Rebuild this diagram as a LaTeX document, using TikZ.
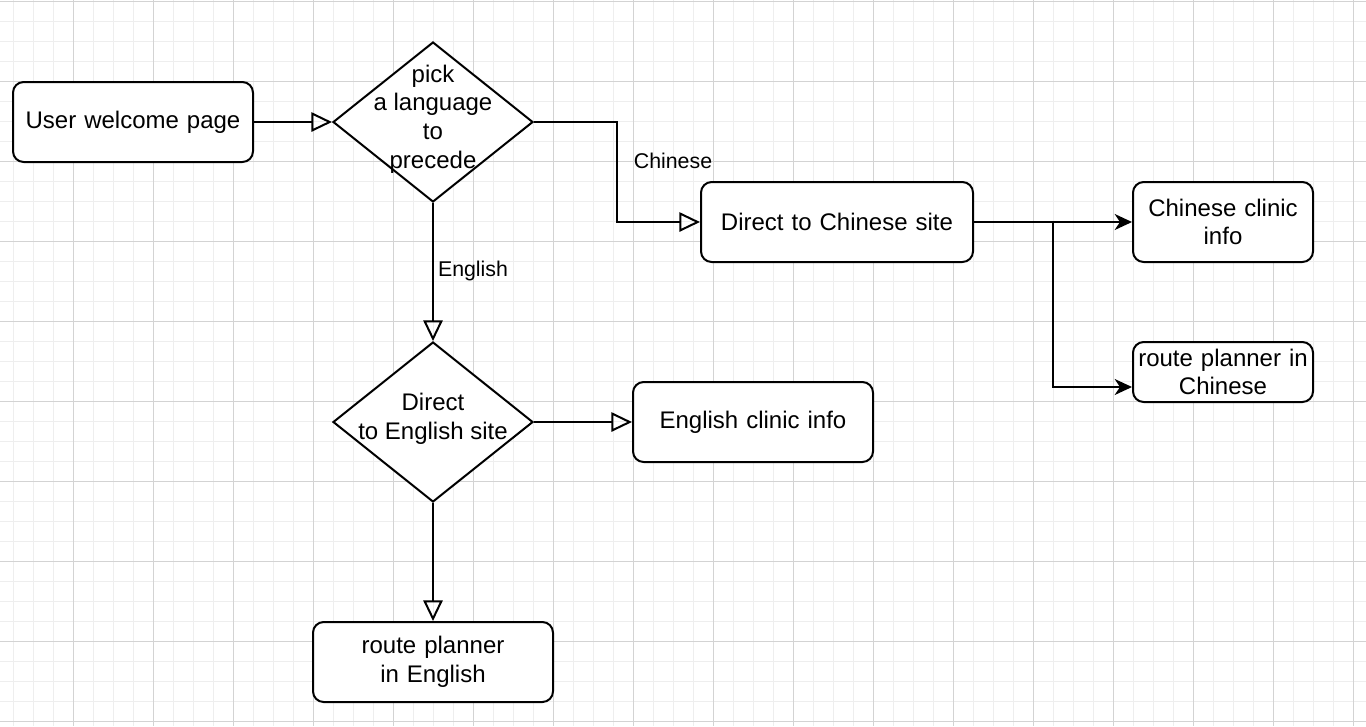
\documentclass[tikz,border=0pt]{standalone}
\usepackage{fontspec}
\setmainfont{Liberation Sans}
\usetikzlibrary{shapes.geometric,arrows.meta}
\definecolor{gridminor}{HTML}{EEEEEE}
\definecolor{gridmajor}{HTML}{D3D3D3}
\tikzset{
  box/.style={draw=black, line width=1.5pt, fill=white, rounded corners=8pt, inner sep=0pt,
    align=center, font=\fontsize{18}{21.6}\selectfont},
  dia/.style={draw=black, line width=1.5pt, fill=white, shape=diamond, inner sep=0pt,
    minimum width=150pt, minimum height=120pt},
  diatext/.style={align=center, inner sep=0pt, font=\fontsize{18}{21.6}\selectfont},
  elabel/.style={inner sep=0pt, font=\fontsize{16}{19.2}\selectfont},
  conn/.style={draw=black, line width=1.5pt},
  oarrow/.style={conn, -{Triangle[open, length=15.5pt, width=14.5pt]}},
  farrow/.style={conn, -{Stealth[length=13pt, width=12pt, inset=4pt]}},
}
\begin{document}
\begin{tikzpicture}[x=0.75pt, y=-0.75pt]
\useasboundingbox (0,0) rectangle (1366,726);
\fill[white] (0,0) rectangle (1366,726);
% grid
\foreach \x in {13,33,...,1366} \draw[gridminor, line width=0.75pt] (\x,0) -- (\x,726);
\foreach \y in {1,21,...,726} \draw[gridminor, line width=0.75pt] (0,\y) -- (1366,\y);
\foreach \x in {73,153,...,1366} \draw[gridmajor, line width=0.75pt] (\x,0) -- (\x,726);
\foreach \y in {1,81,...,726} \draw[gridmajor, line width=0.75pt] (0,\y) -- (1366,\y);

% nodes
\node[box, minimum width=180pt, minimum height=60pt, text width=176pt] (uw) at (133,122) {User welcome page};
\node[dia] (d1) at (433,122) {};
\node[diatext] (d1t) at (433,119) {pick\\a language\\to\\precede};
\node[box, minimum width=204pt, minimum height=60pt, text width=200pt] (dc) at (837,222) {Direct to Chinese site};
\node[box, minimum width=135pt, minimum height=60pt, text width=131pt] (cci) at (1223,222) {Chinese clinic\\info};
\node[box, minimum width=135pt, minimum height=45pt, text width=133pt] (rpc) at (1223,372) {route planner in\\Chinese};
\node[dia] (d2) at (433,422) {};
\node[diatext] (d2t) at (433,419) {Direct\\to English site};
\node[box, minimum width=180pt, minimum height=60pt, text width=176pt] (eci) at (753,422) {English clinic info};
\node[box, minimum width=180pt, minimum height=60pt, text width=176pt] (rpe) at (433,662) {route planner\\in English};

% connectors
\draw[oarrow] (uw.east) -- (d1.west);
\coordinate (cbend) at (617,122);
\draw[oarrow] (d1.east) -- (cbend) |- (dc.west);
\node[elabel] (lch) at (673,161) {Chinese};
\draw[oarrow] (d1.south) -- (d2.north);
\node[elabel] (len) at (473,271) {English};
\draw[oarrow] (d2.east) -- (eci.west);
\draw[oarrow] (d2.south) -- (rpe.north);
\draw[farrow] (dc.east) -- (cci.west);
\coordinate (br) at (1053,222);
\draw[farrow] (br) |- ([yshift=-11.25pt]rpc.west);
\end{tikzpicture}
\end{document}
